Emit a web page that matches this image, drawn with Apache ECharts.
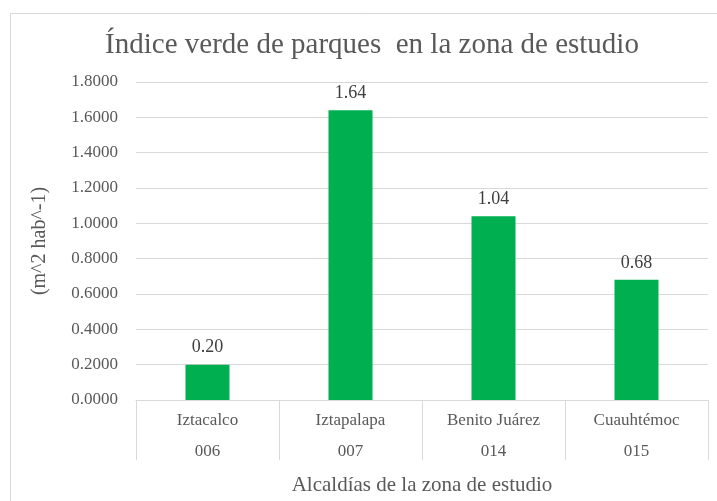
<!DOCTYPE html>
<html><head><meta charset="utf-8">
<script src="https://cdn.jsdelivr.net/npm/echarts@6/dist/echarts.min.js"></script>
<style>html,body{margin:0;padding:0;background:#fff}#c{width:717px;height:501px}</style>
</head><body><div id="c"></div>
<script>
const categories = ['Iztacalco', 'Iztapalapa', 'Benito Juárez', 'Cuauhtémoc'];
const codes = ['006', '007', '014', '015'];
const values = [0.20, 1.64, 1.04, 0.68];
const yTicks = { min: 0, max: 1.8, interval: 0.2 };
const titleText = 'Índice verde de parques  en la zona de estudio';

const serif = 'Liberation Serif';
const txt = '#595959';
const line = '#d9d9d9';
const chart = echarts.init(document.getElementById('c'), null, { renderer: 'canvas' });
chart.setOption({
  animation: false,
  textStyle: { fontFamily: serif },
  graphic: [
    { type: 'rect', shape: { x: 10.5, y: 13.5, width: 720, height: 500 }, style: { fill: 'none', stroke: line, lineWidth: 1 } },
    { type: 'text', x: 372, y: 45, style: { text: titleText, font: 'normal 29px "Liberation Serif"', fill: txt, align: 'center', verticalAlign: 'middle' } }
  ],
  grid: { left: 136, right: 9, top: 82, bottom: 101 },
  xAxis: {
    type: 'category', data: categories,
    axisLine: { lineStyle: { color: line } },
    axisTick: { show: true, length: 60, interval: 0, lineStyle: { color: line } },
    axisLabel: { interval: 0, margin: 5, lineHeight: 31, fontFamily: serif, fontSize: 17, color: txt,
      formatter: (v, i) => v + '\n' + codes[i] },
    name: 'Alcaldías de la zona de estudio', nameLocation: 'middle', nameGap: 75,
    nameTextStyle: { fontFamily: serif, fontSize: 21, color: txt }
  },
  yAxis: {
    type: 'value', min: yTicks.min, max: yTicks.max, interval: yTicks.interval,
    axisLine: { show: false }, axisTick: { show: false },
    splitLine: { lineStyle: { color: line } },
    axisLabel: { margin: 18, fontFamily: serif, fontSize: 17, color: txt, formatter: v => v.toFixed(4) },
    name: '(m^2 hab^-1)', nameLocation: 'middle', nameRotate: 90, nameGap: 86,
    nameTextStyle: { fontFamily: serif, fontSize: 20, color: txt }
  },
  series: [{
    type: 'bar', data: values, barWidth: 44,
    itemStyle: { color: '#00b050' },
    label: { show: true, position: 'top', distance: 8, fontFamily: serif, fontSize: 18, color: '#404040',
      formatter: p => p.value.toFixed(2) }
  }]
});
</script></body></html>
